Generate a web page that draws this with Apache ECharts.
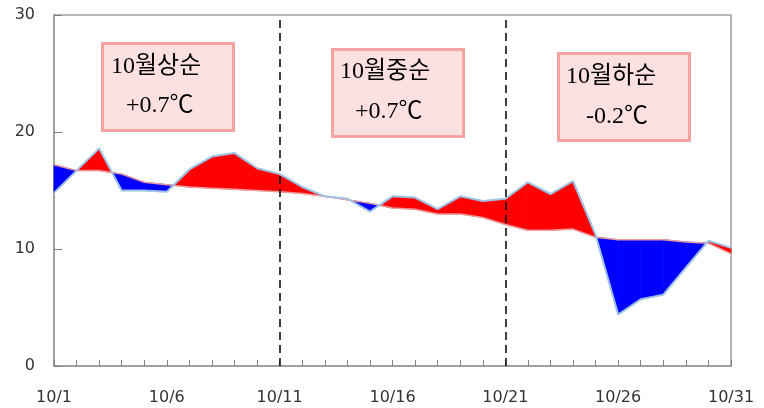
<!DOCTYPE html>
<html>
<head>
<meta charset="utf-8">
<script src="https://cdn.jsdelivr.net/npm/echarts@6/dist/echarts.min.js"></script>
<style>
  html, body { margin: 0; padding: 0; background: #fff; }
  #chart { width: 764px; height: 408px; }
</style>
</head>
<body>
<div id="chart"></div>
<script>
// 날짜 (x축 카테고리)
const days = [
  '10/1', '10/2', '10/3', '10/4', '10/5', '10/6', '10/7', '10/8', '10/9', '10/10',
  '10/11', '10/12', '10/13', '10/14', '10/15', '10/16', '10/17', '10/18', '10/19', '10/20',
  '10/21', '10/22', '10/23', '10/24', '10/25', '10/26', '10/27', '10/28', '10/29', '10/30',
  '10/31'
]

// 일평균기온 (관측)
const actual = [
  14.8, 16.7, 18.6, 15.0, 15.0, 14.9, 16.8, 17.9, 18.2, 16.9,
  16.4, 15.3, 14.5, 14.3, 13.2, 14.5, 14.4, 13.4, 14.5, 14.1,
  14.3, 15.7, 14.7, 15.8, 11.2, 4.4, 5.7, 6.1, 8.4, 10.7,
  10.1
]

// 평년값
const normal = [
  17.2, 16.7, 16.7, 16.4, 15.7, 15.5, 15.3, 15.2, 15.1, 15.0,
  14.9, 14.75, 14.5, 14.2, 13.9, 13.5, 13.4, 13.0, 13.0, 12.7,
  12.1, 11.6, 11.6, 11.7, 11.0, 10.8, 10.8, 10.8, 10.6, 10.5,
  9.6
]

// y축 눈금
const yTicks = [0, 10, 20, 30]

// 순별 구분선
const dividers = ['10/11', '10/21']

// 순별 편차 글상자
const boxTitles = ['10월상순', '10월중순', '10월하순']
const boxValues = ['+0.7℃', '+0.7℃', '-0.2℃']

const chartDom = document.getElementById('chart')
const chartInstance = echarts.init(chartDom, null, {renderer: 'canvas'})

const RED = '#ff0000'
const BLUE = '#0000ff'

/**
 * 관측값과 평년값 사이를 빨강(높음)/파랑(낮음)으로 채우기
 */
const renderBand = (params, api) => {
  const i = api.value(0)
  const d1 = actual[i] - normal[i]
  const d2 = actual[i + 1] - normal[i + 1]
  const p1 = api.coord([i, actual[i]])
  const q1 = api.coord([i, normal[i]])
  const p2 = api.coord([i + 1, actual[i + 1]])
  const q2 = api.coord([i + 1, normal[i + 1]])
  const poly = (pts, color) => ({
    type: 'polygon',
    shape: {points: pts},
    style: {fill: color, stroke: color, lineWidth: 0.8}
  })
  const children = []
  if (d1 * d2 >= 0) {
    children.push(poly([p1, p2, q2, q1], (d1 + d2) > 0 ? RED : BLUE))
  } else {
    // 교차점에서 분할
    const t = d1 / (d1 - d2)
    const c = [p1[0] + (p2[0] - p1[0]) * t, p1[1] + (p2[1] - p1[1]) * t]
    children.push(poly([p1, c, q1], d1 > 0 ? RED : BLUE))
    children.push(poly([c, p2, q2], d2 > 0 ? RED : BLUE))
  }
  return {type: 'group', children: children}
}

// 글상자 그래픽
const boxPos = [[101, 42], [331, 48], [557, 52]]
const textOffset = [[10, 25, 26, 65], [9, 24, 25, 65], [9, 29, 26, 66]]
const boxFont = '24px "Liberation Serif", "Noto Sans CJK KR", serif'
const graphics = []
boxTitles.forEach((title, k) => {
  const [x, y] = boxPos[k]
  const [tx, vx, ty, vy] = textOffset[k]
  graphics.push({
    type: 'rect',
    left: x, top: y,
    shape: {width: 131, height: 87},
    style: {fill: '#fde1e1', stroke: '#f5a3a3', lineWidth: 3},
    z: 100
  })
  graphics.push({
    type: 'text',
    left: x + tx, top: y + ty - 13,
    style: {text: title, font: boxFont, fill: '#000'},
    z: 101
  })
  graphics.push({
    type: 'text',
    left: x + vx, top: y + vy - 13,
    style: {text: boxValues[k], font: boxFont, fill: '#000'},
    z: 101
  })
})

const axisFont = {fontFamily: 'DejaVu Sans', fontSize: 16, color: '#333'}

const option = {
  animation: false,
  grid: {
    left: 54, right: 33, top: 15, bottom: 42,
    show: true,
    borderColor: '#a0a0a0',
    borderWidth: 1.5
  },
  xAxis: {
    type: 'category',
    data: days,
    boundaryGap: false,
    axisLine: {lineStyle: {color: '#a0a0a0', width: 2}},
    axisTick: {
      inside: true, length: 6, interval: 0,
      lineStyle: {color: '#808080'}
    },
    axisLabel: {...axisFont, interval: 4, margin: 24},
    splitLine: {show: false}
  },
  yAxis: {
    type: 'value',
    min: yTicks[0],
    max: yTicks[yTicks.length - 1],
    interval: 10,
    axisLine: {show: true, lineStyle: {color: '#a0a0a0', width: 2}},
    axisTick: {show: true, inside: true, length: 8, lineStyle: {color: '#808080'}},
    axisLabel: {...axisFont, margin: 19},
    splitLine: {show: false}
  },
  graphic: graphics,
  series: [
    {
      type: 'custom',
      renderItem: renderBand,
      data: days.slice(0, -1).map((_, i) => [i]),
      encode: {x: 0},
      z: 1,
      silent: true
    },
    {
      name: '평년',
      type: 'line',
      data: normal,
      symbol: 'none',
      lineStyle: {color: '#e99a9a', width: 1.5},
      z: 3
    },
    {
      name: '관측',
      type: 'line',
      data: actual,
      symbol: 'none',
      lineStyle: {color: '#9cc2e5', width: 2},
      z: 4,
      markLine: {
        silent: true,
        symbol: 'none',
        label: {show: false},
        lineStyle: {color: '#000', type: [8, 5], width: 1.5},
        data: dividers.map(d => ({xAxis: d}))
      }
    }
  ]
}

chartInstance.setOption(option)
</script>
</body>
</html>
